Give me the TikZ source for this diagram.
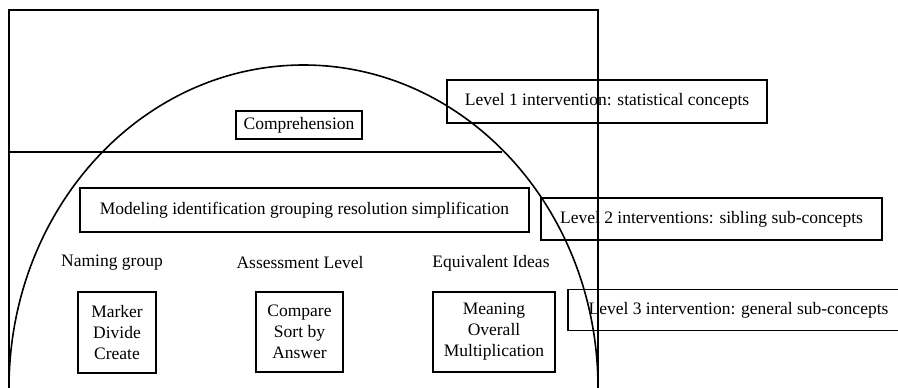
\documentclass[tikz,border=0pt]{standalone}
\usepackage{fontspec}
\setmainfont{Liberation Serif}
\usetikzlibrary{positioning}

\begin{document}
\begin{tikzpicture}[x=1pt,y=-1pt]
    \tikzstyle{box}=[
        draw,
        line width=1.8pt,
        inner sep=0pt,
        align=center,
        font=\fontsize{17.5}{21}\selectfont]
    \tikzstyle{label}=[inner sep=0pt,font=\fontsize{17.5}{21}\selectfont]
    \tikzstyle{frame}=[line width=1.6pt]

    \useasboundingbox (0,0) rectangle (898,388);
    \draw[frame] (9,388) -- (9,10) -- (598,10) -- (598,388);
    \draw[frame] (9,152) -- (502,152);
    \draw[frame] (9,388) arc[start angle=180,end angle=0,x radius=294.5pt,y radius=323pt];

    \node[box,minimum width=126,minimum height=28] (comp) at (299,125) {Comprehension};
    \node[box,minimum width=320,minimum height=43] (lvl1) at (607,101.5) {Level 1 intervention: statistical concepts};
    \node[box,minimum width=449,minimum height=44] (model) at (304.5,210) {Modeling identification grouping resolution simplification};
    \node[box,minimum width=341,minimum height=42] (lvl2) at (711.5,219) {Level 2 interventions: sibling sub-concepts};
    \node[box,minimum width=341,minimum height=41] (lvl3) at (738.5,310) {Level 3 intervention: general sub-concepts};

    \node[label] (naming) at (112,263) {Naming group};
    \node[label] (assess) at (300,263) {Assessment Level};
    \node[label] (equiv) at (491,263) {Equivalent Ideas};

    \node[box,minimum width=78,minimum height=81] (marker) at (117,332.5) {Marker\\Divide\\Create};
    \node[box,minimum width=87,minimum height=80] (compare) at (299.5,332) {Compare\\Sort by\\Answer};
    \node[box,minimum width=122,minimum height=80] (meaning) at (494,332) {Meaning\\Overall\\Multiplication};
\end{tikzpicture}
\end{document}
